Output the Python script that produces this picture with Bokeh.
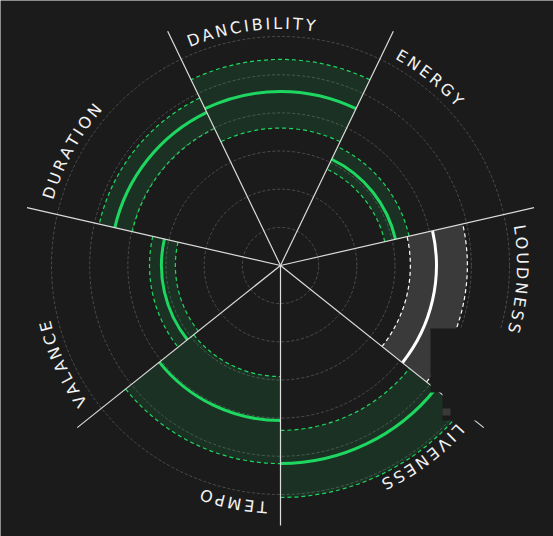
import numpy as np
from bokeh.plotting import figure
from bokeh.models import Range1d
from bokeh.core.properties import value
from bokeh.embed import file_html
from bokeh.resources import INLINE

# ---- data (values as fraction of the outer ring) ----
features = ["DANCIBILITY", "ENERGY", "LOUDNESS", "LIVENESS", "TEMPO", "VALANCE", "DURATION"]
low_vals = [0.600, 0.467, 0.567, 0.720, 0.485, 0.459, 0.664]
mean_vals = [0.760, 0.515, 0.681, 0.865, 0.677, 0.520, 0.742]
high_vals = [0.900, 0.576, 0.816, 1.013, 0.865, 0.572, 0.812]
highlight = "LOUDNESS"
ring_levels = [1 / 6, 2 / 6, 3 / 6, 4 / 6, 5 / 6, 1.0]

# ---- style ----
BG = "#1b1b1b"
GREEN = "#1ed760"
R = 229.0          # radius of outer ring (pixels)
SPOKE = 260.0      # spoke length
R_TEXT = 242.0     # label baseline radius
W, H = 553, 536
CX, CY = 280, 265

p = figure(width=W, height=H, output_backend="svg", toolbar_location=None,
           x_range=Range1d(-CX, W - CX), y_range=Range1d(-(H - CY), CY),
           min_border=0, background_fill_color=BG, border_fill_color=BG)
p.axis.visible = False
p.grid.visible = False
p.outline_line_color = None

n = len(features)
step = 2 * np.pi / n
centers = np.arange(n) * step          # compass angle (clockwise from top)
starts = centers - step / 2
ends = centers + step / 2

# grid rings
p.arc(x=0, y=0, radius=[v * R for v in ring_levels], start_angle=0, end_angle=2 * np.pi,
      line_color="#4d4d4d", line_width=1, line_dash="3 2")

for i, f in enumerate(features):
    a0 = np.pi / 2 - ends[i]
    a1 = np.pi / 2 - starts[i]
    hl = (f == highlight)
    col = "#ffffff" if hl else GREEN
    if hl:
        p.annular_wedge(x=0, y=0, inner_radius=low_vals[i] * R, outer_radius=high_vals[i] * R,
                        start_angle=a0, end_angle=a1, fill_color="#3a3a3a", line_color=None)
    else:
        p.annular_wedge(x=0, y=0, inner_radius=low_vals[i] * R, outer_radius=high_vals[i] * R,
                        start_angle=a0, end_angle=a1, fill_color=GREEN, fill_alpha=0.12,
                        line_color=None)
    p.arc(x=0, y=0, radius=[low_vals[i] * R, high_vals[i] * R], start_angle=a0, end_angle=a1,
          line_color=col, line_width=1.2, line_dash="4 3")
    p.arc(x=0, y=0, radius=mean_vals[i] * R, start_angle=a0, end_angle=a1,
          line_color=col, line_width=3)

# spokes
p.segment(x0=0, y0=0, x1=SPOKE * np.sin(starts), y1=SPOKE * np.cos(starts),
          line_color="#dcdcdc", line_width=1.2)

# curved labels (one glyph per character along the circle)
adv = {"A": 1401, "B": 1405, "C": 1430, "D": 1577, "E": 1294, "G": 1587, "I": 604,
       "L": 1141, "M": 1767, "N": 1532, "O": 1612, "P": 1235, "R": 1423, "S": 1300,
       "T": 1251, "U": 1499, "V": 1401, "Y": 1251}
FS = 16.0
SPACING = 3.0
xs, ys, chars, angs = [], [], [], []
for i, f in enumerate(features):
    pos = 0.0
    theta0 = starts[i] + np.radians(3.2)
    for ch in f:
        w = adv.get(ch, 1300) / 2048 * FS
        mid = pos + w / 2
        th = theta0 + mid / R_TEXT
        xs.append(R_TEXT * np.sin(th))
        ys.append(R_TEXT * np.cos(th))
        chars.append(ch)
        angs.append(-th)
        pos += w + SPACING
p.text(x=xs, y=ys, text=chars, angle=angs, text_align="center", text_baseline="alphabetic",
       text_font=value("DejaVu Sans"), text_font_size="16px", text_color="#f2f2f2")

# occluding overlay block seen in the reference (lower right)
bx = [150, 225, 225, 162, 162, 150]
by = [-63, -63, -155, -155, -127, -127]
p.patch(x=bx, y=by, fill_color=BG, line_color=None)
p.quad(left=162, right=170, top=-143, bottom=-150, fill_color="#3a3a3a", line_color=None)

open("out.html", "w").write(file_html(p, INLINE))
